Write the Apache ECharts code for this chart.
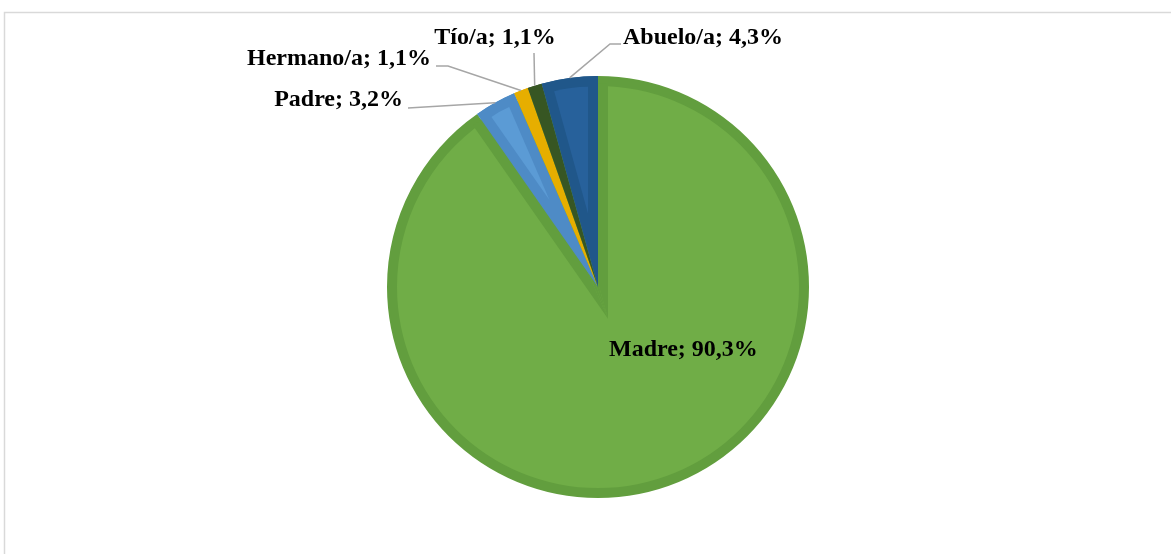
<!DOCTYPE html>
<html>
<head>
<meta charset="utf-8">
<script src="https://cdn.jsdelivr.net/npm/echarts@6/dist/echarts.min.js"></script>
<style>
  html, body { margin: 0; padding: 0; background: #ffffff; }
  #chart { width: 1171px; height: 554px; }
</style>
</head>
<body>
<div id="chart"></div>
<script>
// Categories and their shares (percent), clockwise from 12 o'clock
const categories = ['Madre', 'Padre', 'Hermano/a', 'Tío/a', 'Abuelo/a'];
const shares = [90.3, 3.2, 1.1, 1.1, 4.3];

// Rim (bevel) and face colours per slice
const rimColors = ['#629E3E', '#4E8BC6', '#E6AE00', '#375623', '#20578A'];
const faceColors = ['#70AD47', '#5B9BD5', '#E6AE00', '#375623', '#27619B'];

const CX = 598, CY = 287, R = 211, RIM = 10;
const CLEAR = 'rgba(0,0,0,0)';

// Label placement and leader routing
const labelSpots = {
  'Madre':     { x: 609, y: 350, align: 'left' },
  'Padre':     { x: 403, y: 100, align: 'right', path: [[408, 108]] },
  'Hermano/a': { x: 431, y: 59,  align: 'right', path: [[448, 66], [436, 66]] },
  'Tío/a':     { x: 495, y: 38,  align: 'center', path: [[534, 53]] },
  'Abuelo/a':  { x: 623, y: 38,  align: 'left', path: [[610, 44], [621, 44]] }
};

const fmt = v => v.toFixed(1).replace('.', ',') + '%';
const total = shares.reduce((a, b) => a + b, 0);

// Bisector direction of slice i (screen coords, clockwise from top)
function bisector(i) {
  let start = 0;
  for (let k = 0; k < i; k++) start += shares[k];
  const mid = (start + shares[i] / 2) / total * Math.PI * 2;
  return [Math.sin(mid), -Math.cos(mid)];
}

// A pie sharing the slice angles, each slice coloured by colorFn
function piece(colorFn, center, radius, extra) {
  return Object.assign({
    type: 'pie',
    center: center,
    radius: [0, radius],
    startAngle: 90,
    clockwise: true,
    silent: true,
    animation: false,
    label: { show: false },
    labelLine: { show: false },
    emphasis: { disabled: true },
    data: categories.map((name, i) => ({
      name: name, value: shares[i], itemStyle: { color: colorFn(i) }
    }))
  }, extra || {});
}

const series = [];

// 1. full slices in rim colour
series.push(piece(i => rimColors[i], [CX, CY], R));

// 2. faces of reflex slices, concentric, plus a band fencing them off the rest
shares.forEach((v, i) => {
  const half = v / total * Math.PI;
  if (half < Math.PI / 2) return;
  series.push(piece(k => (k === i ? faceColors[i] : CLEAR), [CX, CY], R - RIM));
  const restHalf = Math.PI - half;
  const d = RIM / Math.sin(restHalf);
  const u = bisector(i);
  const r = R - RIM + d * Math.cos(restHalf) + 3;
  series.push(piece(k => (k === i ? CLEAR : rimColors[i]), [CX + d * u[0], CY + d * u[1]], r));
});

// 3. the remaining slices' rims again, on top of that band
series.push(piece(i => (shares[i] / total * Math.PI >= Math.PI / 2 ? CLEAR : rimColors[i]), [CX, CY], R));

// 4. faces of narrow slices, shifted along the bisector to keep a constant rim
shares.forEach((v, i) => {
  const half = v / total * Math.PI;
  if (half >= Math.PI / 2) return;
  const d = RIM / Math.sin(half);
  const r = R - RIM - d;
  if (r < 30) return;
  const u = bisector(i);
  series.push(piece(k => (k === i ? faceColors[i] : CLEAR), [CX + d * u[0], CY + d * u[1]], r));
});

// 5. labels
series.push({
  type: 'pie',
  center: [CX, CY],
  radius: [0, R],
  startAngle: 90,
  clockwise: true,
  silent: true,
  avoidLabelOverlap: false,
  z: 10,
  data: categories.map((name, i) => ({
    name: name,
    value: shares[i],
    itemStyle: { color: CLEAR },
    label: { position: i === 0 ? 'inside' : 'outside' },
    labelLine: { show: i !== 0 }
  })),
  label: {
    show: true,
    formatter: p => p.name + '; ' + fmt(p.value),
    fontFamily: 'Liberation Serif',
    fontWeight: 'bold',
    fontSize: 24,
    color: '#000000'
  },
  labelLine: {
    show: true,
    lineStyle: { color: '#a6a6a6', width: 1.5 }
  },
  labelLayout: function (params) {
    const spot = labelSpots[categories[params.dataIndex]];
    const out = { x: spot.x, y: spot.y, align: spot.align, verticalAlign: 'middle' };
    if (spot.path && params.labelLinePoints) {
      const pts = [params.labelLinePoints[0]].concat(spot.path);
      while (pts.length < 3) pts.push(pts[pts.length - 1]);
      out.labelLinePoints = pts;
    }
    return out;
  }
});

const chart = echarts.init(document.getElementById('chart'), null, { renderer: 'canvas' });

chart.setOption({
  animation: false,
  backgroundColor: '#ffffff',
  graphic: [{
    type: 'rect',
    silent: true,
    shape: { x: 4.5, y: 12.5, width: 1300, height: 700 },
    style: { fill: null, stroke: '#d9d9d9', lineWidth: 1.5 }
  }],
  series: series
});
</script>
</body>
</html>
